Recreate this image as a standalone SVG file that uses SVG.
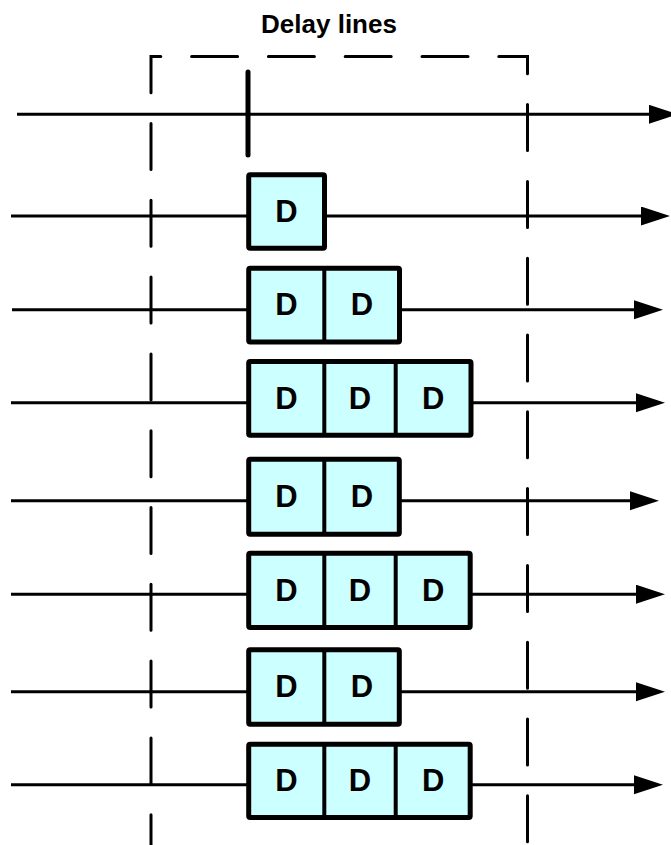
<svg xmlns="http://www.w3.org/2000/svg" width="671" height="845" viewBox="0 0 671 845">
  <defs>
    <style>
      .ln { stroke: #000; stroke-width: 3; fill: none; }
      .cell { fill: #CCFFFF; stroke: #000; stroke-width: 5; stroke-linejoin: round; }
      .div { stroke: #000; stroke-width: 4; }
      .ttl { font-family: "Liberation Sans", Arial, sans-serif; font-weight: bold; font-size: 26px; text-anchor: middle; fill: #000; }
      .lbl { font-family: "Liberation Sans", Arial, sans-serif; font-weight: bold; font-size: 31px; text-anchor: middle; fill: #000; }
      .dash { stroke: #000; stroke-width: 3; fill: none; stroke-dasharray: 46 30.8; stroke-dashoffset: 15.7; stroke-linecap: round; stroke-linejoin: miter; }
    </style>
    <marker id="arr" markerUnits="userSpaceOnUse" markerWidth="30" markerHeight="20" refX="0" refY="9.5" orient="auto">
      <path d="M0,0 L29,9.5 L0,19 Z" fill="#000"/>
    </marker>
  </defs>
  <rect width="671" height="845" fill="#fff"/>

  <g id="title">
    <text class="ttl" x="329" y="33.3">Delay lines</text>
  </g>

  <g id="delay-lines-frame">
    <path class="dash" d="M151,845 V56.5 H527.5 V845"/>
  </g>

  <g id="connectors">
    <line class="ln" x1="17" y1="114.3" x2="649" y2="114.3" marker-end="url(#arr)"/>
    <line class="ln" x1="11" y1="216" x2="641" y2="216" marker-end="url(#arr)"/>
    <line class="ln" x1="12" y1="309.7" x2="634" y2="309.7" marker-end="url(#arr)"/>
    <line class="ln" x1="11" y1="402.7" x2="636" y2="402.7" marker-end="url(#arr)"/>
    <line class="ln" x1="11" y1="500.7" x2="630" y2="500.7" marker-end="url(#arr)"/>
    <line class="ln" x1="11" y1="594.2" x2="636" y2="594.2" marker-end="url(#arr)"/>
    <line class="ln" x1="11" y1="691.7" x2="636" y2="691.7" marker-end="url(#arr)"/>
    <line class="ln" x1="11" y1="784.7" x2="634" y2="784.7" marker-end="url(#arr)"/>
    <line x1="248" y1="72" x2="248" y2="155" stroke="#000" stroke-width="5" stroke-linecap="round"/>
  </g>

  <g id="delay1">
    <rect class="cell" x="248.7" y="174.8" width="75.8" height="73.4" rx="1.5"/>
    <text class="lbl" x="286.5" y="221.8">D</text>
  </g>

  <g id="delay2">
    <rect class="cell" x="248.7" y="268.2" width="150.8" height="73.8" rx="1.5"/>
    <line class="div" x1="324.3" y1="268.2" x2="324.3" y2="342"/>
    <text class="lbl" x="286.5" y="315.4">D</text>
    <text class="lbl" x="361.9" y="315.4">D</text>
  </g>

  <g id="delay3">
    <rect class="cell" x="248.7" y="361.5" width="222.3" height="73.8" rx="1.5"/>
    <line class="div" x1="324.3" y1="361.5" x2="324.3" y2="435.3"/>
    <line class="div" x1="395.7" y1="361.5" x2="395.7" y2="435.3"/>
    <text class="lbl" x="286.5" y="408.7">D</text>
    <text class="lbl" x="360" y="408.7">D</text>
    <text class="lbl" x="433.3" y="408.7">D</text>
  </g>

  <g id="delay4">
    <rect class="cell" x="248.7" y="459.2" width="150.6" height="75" rx="1.5"/>
    <line class="div" x1="324.3" y1="459.2" x2="324.3" y2="534.2"/>
    <text class="lbl" x="286.5" y="507">D</text>
    <text class="lbl" x="361.9" y="507">D</text>
  </g>

  <g id="delay5">
    <rect class="cell" x="248.7" y="553.2" width="221.5" height="74.3" rx="1.5"/>
    <line class="div" x1="324.3" y1="553.2" x2="324.3" y2="627.5"/>
    <line class="div" x1="395.7" y1="553.2" x2="395.7" y2="627.5"/>
    <text class="lbl" x="286.5" y="600.7">D</text>
    <text class="lbl" x="360" y="600.7">D</text>
    <text class="lbl" x="433.3" y="600.7">D</text>
  </g>

  <g id="delay6">
    <rect class="cell" x="248.7" y="649.8" width="150.6" height="74.4" rx="1.5"/>
    <line class="div" x1="324.3" y1="649.8" x2="324.3" y2="724.2"/>
    <text class="lbl" x="286.5" y="697.3">D</text>
    <text class="lbl" x="361.9" y="697.3">D</text>
  </g>

  <g id="delay7">
    <rect class="cell" x="248.7" y="744.2" width="221.5" height="73.3" rx="1.5"/>
    <line class="div" x1="324.3" y1="744.2" x2="324.3" y2="817.5"/>
    <line class="div" x1="395.7" y1="744.2" x2="395.7" y2="817.5"/>
    <text class="lbl" x="286.5" y="791.2">D</text>
    <text class="lbl" x="360" y="791.2">D</text>
    <text class="lbl" x="433.3" y="791.2">D</text>
  </g>
</svg>
